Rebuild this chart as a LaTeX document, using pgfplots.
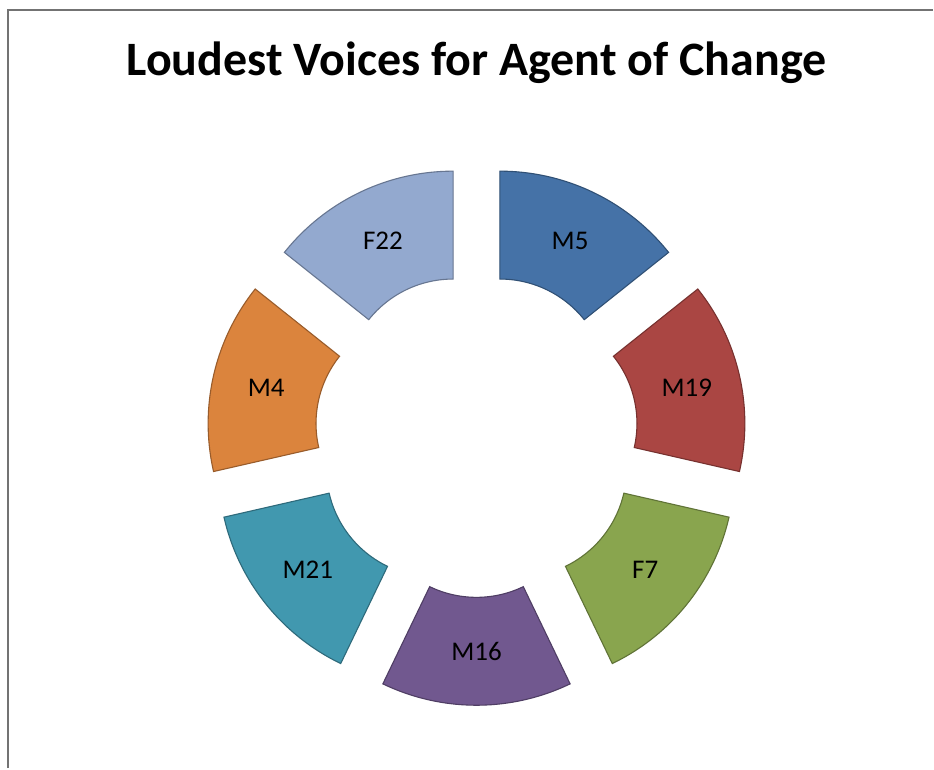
\documentclass[border=0pt]{standalone}
\usepackage{pgfplots}
\usepackage{pgfplotstable}
\usepackage{fontspec}
\setmainfont{Carlito}
\pgfplotsset{compat=1.18}

\definecolor{c1}{HTML}{4572A7}
\definecolor{c2}{HTML}{AA4643}
\definecolor{c3}{HTML}{89A54E}
\definecolor{c4}{HTML}{71588F}
\definecolor{c5}{HTML}{4198AF}
\definecolor{c6}{HTML}{DB843D}
\definecolor{c7}{HTML}{93A9CF}
\newcommand\labfont{\fontsize{27}{32}\selectfont}

% one row per slice, clockwise from 12 o'clock
\pgfplotstableread{
label value col
M5  1 c1
M19 1 c2
F7  1 c3
M16 1 c4
M21 1 c5
M4  1 c6
F22 1 c7
}\slices

\begin{document}
\begin{tikzpicture}
\begin{axis}[x=1pt, y=1pt, xmin=0, xmax=934, ymin=0, ymax=769,
  hide axis, clip=false, scale only axis]
\path[fill=white] (axis cs:0,0) rectangle (axis cs:934,769);
\draw[black!55, line width=2pt] (axis cs:8.5,0) -- (axis cs:8.5,758.5) -- (axis cs:934,758.5);
\node[font=\fontsize{48}{58}\selectfont\bfseries, anchor=base] at (axis cs:477,693)
  {Loudest Voices for Agent of Change};
\def\cx{477}\def\cy{333}\def\Rout{216}\def\Rin{108}\def\dex{54}
\def\total{7}
\def\cum{0}
\pgfplotstablegetrowsof{\slices}
\pgfmathtruncatemacro\nrows{\pgfplotsretval-1}
\pgfplotsforeachungrouped \k in {0,...,\nrows}{
  \pgfplotstablegetelem{\k}{value}\of\slices \let\val\pgfplotsretval
  \pgfplotstablegetelem{\k}{label}\of\slices \let\lab\pgfplotsretval
  \pgfplotstablegetelem{\k}{col}\of\slices \let\col\pgfplotsretval
  \pgfmathsetmacro\aS{90-\cum*360/\total}
  \pgfmathsetmacro\aE{\aS-\val*360/\total}
  \pgfmathsetmacro\bis{(\aS+\aE)/2}
  \pgfmathsetmacro\ox{\cx+\dex*cos(\bis)}
  \pgfmathsetmacro\oy{\cy+\dex*sin(\bis)}
  \pgfmathsetmacro\xa{\ox+\Rout*cos(\aS)}
  \pgfmathsetmacro\ya{\oy+\Rout*sin(\aS)}
  \pgfmathsetmacro\xb{\ox+\Rin*cos(\aE)}
  \pgfmathsetmacro\yb{\oy+\Rin*sin(\aE)}
  \pgfmathsetmacro\lx{\ox+(\Rout+\Rin)/2*cos(\bis)}
  \pgfmathsetmacro\ly{\oy+(\Rout+\Rin)/2*sin(\bis)}
  \edef\cmd{\noexpand\filldraw[fill=\col, draw=\col!70!black, line width=1.1pt]
    (axis cs:\xa,\ya) arc[start angle=\aS, end angle=\aE, radius=\Rout pt]
    -- (axis cs:\xb,\yb) arc[start angle=\aE, end angle=\aS, radius=\Rin pt] -- cycle;
    \noexpand\node[font=\noexpand\labfont] at (axis cs:\lx,\ly) {\lab};}
  \cmd
  \pgfmathsetmacro\cum{\cum+\val}
}
\end{axis}
\end{tikzpicture}
\end{document}
